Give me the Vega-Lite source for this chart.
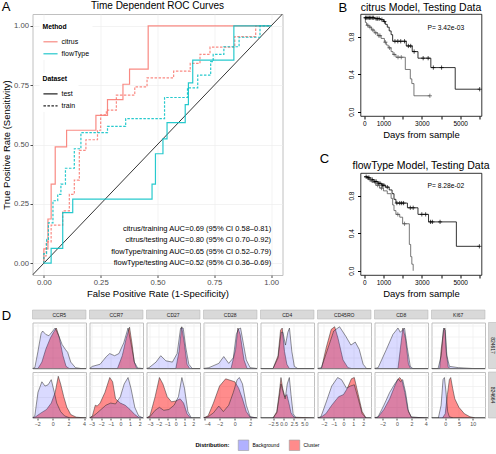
{
"$schema":"https://vega.github.io/schema/vega-lite/v6.json",
"background":"white",
"padding":{"left":0.5,"top":0,"right":0,"bottom":0},
"config":{
 "font":"Liberation Sans",
 "view":{"stroke":"#C0C0C0"},
 "title":{"fontWeight":"normal","color":"black","font":"Liberation Sans"},
 "axis":{"gridColor":"#EBEBEB","gridWidth":0.6,"labelFont":"Liberation Sans","titleFont":"Liberation Sans","titleFontWeight":"normal","titleColor":"black","labelColor":"#4D4D4D","tickColor":"#4D4D4D"},
 "legend":{"labelFont":"Liberation Sans","titleFont":"Liberation Sans"}
},
"datasets":{
 "notes":[
  {"id":"A","label":"A"},{"id":"B","label":"B"},{"id":"C","label":"C"},
  {"id":"tA","label":"Time Dependent ROC Curves"},{"id":"tB","label":"citrus Model, Testing Data"},{"id":"tC","label":"flowType Model, Testing Data"},
  {"id":"auc","label":["citrus/training AUC=0.69 (95% CI 0.58–0.81)","citrus/testing AUC=0.80 (95% CI 0.70–0.92)","flowType/training AUC=0.65 (95% CI 0.52–0.79)","flowType/testing AUC=0.52 (95% CI 0.36–0.69)"]},
  {"id":"pB","label":"P= 3.42e-03"},{"id":"pC","label":"P= 8.28e-02"}
 ],
 "roc":[
  {"method":"citrus","dataset":"test","fpr":0,"tpr":0},{"method":"citrus","dataset":"test","fpr":0.018,"tpr":0.06},{"method":"citrus","dataset":"test","fpr":0.032,"tpr":0.186},{"method":"citrus","dataset":"test","fpr":0.05,"tpr":0.333},{"method":"citrus","dataset":"test","fpr":0.1,"tpr":0.49},{"method":"citrus","dataset":"test","fpr":0.229,"tpr":0.56},{"method":"citrus","dataset":"test","fpr":0.28,"tpr":0.623},{"method":"citrus","dataset":"test","fpr":0.348,"tpr":0.689},{"method":"citrus","dataset":"test","fpr":0.377,"tpr":0.754},{"method":"citrus","dataset":"test","fpr":0.459,"tpr":0.818},{"method":"citrus","dataset":"test","fpr":1,"tpr":1},
  {"method":"citrus","dataset":"train","fpr":0,"tpr":0},{"method":"citrus","dataset":"train","fpr":0.01,"tpr":0.03},{"method":"citrus","dataset":"train","fpr":0.032,"tpr":0.09},{"method":"citrus","dataset":"train","fpr":0.083,"tpr":0.16},{"method":"citrus","dataset":"train","fpr":0.112,"tpr":0.22},{"method":"citrus","dataset":"train","fpr":0.134,"tpr":0.29},{"method":"citrus","dataset":"train","fpr":0.156,"tpr":0.35},{"method":"citrus","dataset":"train","fpr":0.185,"tpr":0.475},{"method":"citrus","dataset":"train","fpr":0.236,"tpr":0.52},{"method":"citrus","dataset":"train","fpr":0.25,"tpr":0.56},{"method":"citrus","dataset":"train","fpr":0.275,"tpr":0.625},{"method":"citrus","dataset":"train","fpr":0.319,"tpr":0.645},{"method":"citrus","dataset":"train","fpr":0.4,"tpr":0.708},{"method":"citrus","dataset":"train","fpr":0.454,"tpr":0.743},{"method":"citrus","dataset":"train","fpr":0.571,"tpr":0.781},{"method":"citrus","dataset":"train","fpr":0.644,"tpr":0.809},{"method":"citrus","dataset":"train","fpr":0.687,"tpr":0.842},{"method":"citrus","dataset":"train","fpr":0.731,"tpr":0.88},{"method":"citrus","dataset":"train","fpr":0.84,"tpr":0.91},{"method":"citrus","dataset":"train","fpr":0.932,"tpr":0.955},{"method":"citrus","dataset":"train","fpr":1,"tpr":1},
  {"method":"flowType","dataset":"test","fpr":0,"tpr":0},{"method":"flowType","dataset":"test","fpr":0.032,"tpr":0},{"method":"flowType","dataset":"test","fpr":0.083,"tpr":0.062},{"method":"flowType","dataset":"test","fpr":0.127,"tpr":0.213},{"method":"flowType","dataset":"test","fpr":0.476,"tpr":0.27},{"method":"flowType","dataset":"test","fpr":0.491,"tpr":0.333},{"method":"flowType","dataset":"test","fpr":0.524,"tpr":0.461},{"method":"flowType","dataset":"test","fpr":0.542,"tpr":0.524},{"method":"flowType","dataset":"test","fpr":0.622,"tpr":0.592},{"method":"flowType","dataset":"test","fpr":0.636,"tpr":0.668},{"method":"flowType","dataset":"test","fpr":0.655,"tpr":0.76},{"method":"flowType","dataset":"test","fpr":0.836,"tpr":0.856},{"method":"flowType","dataset":"test","fpr":1,"tpr":1},
  {"method":"flowType","dataset":"train","fpr":0,"tpr":0},{"method":"flowType","dataset":"train","fpr":0.012,"tpr":0.04},{"method":"flowType","dataset":"train","fpr":0.02,"tpr":0.1},{"method":"flowType","dataset":"train","fpr":0.04,"tpr":0.17},{"method":"flowType","dataset":"train","fpr":0.061,"tpr":0.263},{"method":"flowType","dataset":"train","fpr":0.075,"tpr":0.29},{"method":"flowType","dataset":"train","fpr":0.095,"tpr":0.333},{"method":"flowType","dataset":"train","fpr":0.134,"tpr":0.4},{"method":"flowType","dataset":"train","fpr":0.163,"tpr":0.482},{"method":"flowType","dataset":"train","fpr":0.28,"tpr":0.55},{"method":"flowType","dataset":"train","fpr":0.36,"tpr":0.576},{"method":"flowType","dataset":"train","fpr":0.531,"tpr":0.609},{"method":"flowType","dataset":"train","fpr":0.632,"tpr":0.698},{"method":"flowType","dataset":"train","fpr":0.677,"tpr":0.739},{"method":"flowType","dataset":"train","fpr":0.734,"tpr":0.792},{"method":"flowType","dataset":"train","fpr":0.745,"tpr":0.849},{"method":"flowType","dataset":"train","fpr":0.792,"tpr":0.88},{"method":"flowType","dataset":"train","fpr":0.859,"tpr":0.912},{"method":"flowType","dataset":"train","fpr":0.951,"tpr":0.952},{"method":"flowType","dataset":"train","fpr":1,"tpr":1}
 ],
 "km":[
  {"panel":"B","group":"low","kind":"step","time":0,"surv":1},{"panel":"B","group":"low","kind":"step","time":550,"surv":0.99},{"panel":"B","group":"low","kind":"step","time":850,"surv":0.98},{"panel":"B","group":"low","kind":"step","time":1000,"surv":0.96},{"panel":"B","group":"low","kind":"step","time":1100,"surv":0.93},{"panel":"B","group":"low","kind":"step","time":1200,"surv":0.9},{"panel":"B","group":"low","kind":"step","time":1300,"surv":0.86},{"panel":"B","group":"low","kind":"step","time":1400,"surv":0.82},{"panel":"B","group":"low","kind":"step","time":1480,"surv":0.75},{"panel":"B","group":"low","kind":"step","time":2190,"surv":0.7},{"panel":"B","group":"low","kind":"step","time":2500,"surv":0.64},{"panel":"B","group":"low","kind":"step","time":2800,"surv":0.57},{"panel":"B","group":"low","kind":"step","time":3470,"surv":0.47},{"panel":"B","group":"low","kind":"step","time":4740,"surv":0.24},{"panel":"B","group":"low","kind":"step","time":6016,"surv":0.24},
  {"panel":"B","group":"low","kind":"censor","time":60,"surv":1},{"panel":"B","group":"low","kind":"censor","time":130,"surv":1},{"panel":"B","group":"low","kind":"censor","time":200,"surv":1},{"panel":"B","group":"low","kind":"censor","time":270,"surv":1},{"panel":"B","group":"low","kind":"censor","time":340,"surv":1},{"panel":"B","group":"low","kind":"censor","time":420,"surv":1},{"panel":"B","group":"low","kind":"censor","time":490,"surv":1},{"panel":"B","group":"low","kind":"censor","time":620,"surv":0.99},{"panel":"B","group":"low","kind":"censor","time":700,"surv":0.99},{"panel":"B","group":"low","kind":"censor","time":780,"surv":0.99},{"panel":"B","group":"low","kind":"censor","time":920,"surv":0.98},{"panel":"B","group":"low","kind":"censor","time":1050,"surv":0.96},{"panel":"B","group":"low","kind":"censor","time":1600,"surv":0.75},{"panel":"B","group":"low","kind":"censor","time":1750,"surv":0.75},{"panel":"B","group":"low","kind":"censor","time":1900,"surv":0.75},{"panel":"B","group":"low","kind":"censor","time":2100,"surv":0.75},{"panel":"B","group":"low","kind":"censor","time":2300,"surv":0.7},{"panel":"B","group":"low","kind":"censor","time":2420,"surv":0.7},{"panel":"B","group":"low","kind":"censor","time":2600,"surv":0.64},{"panel":"B","group":"low","kind":"censor","time":3070,"surv":0.57},{"panel":"B","group":"low","kind":"censor","time":3330,"surv":0.57},{"panel":"B","group":"low","kind":"censor","time":3600,"surv":0.47},{"panel":"B","group":"low","kind":"censor","time":4030,"surv":0.47},{"panel":"B","group":"low","kind":"censor","time":6016,"surv":0.24},
  {"panel":"B","group":"high","kind":"step","time":0,"surv":1},{"panel":"B","group":"high","kind":"step","time":60,"surv":0.95},{"panel":"B","group":"high","kind":"step","time":120,"surv":0.92},{"panel":"B","group":"high","kind":"step","time":250,"surv":0.9},{"panel":"B","group":"high","kind":"step","time":380,"surv":0.87},{"panel":"B","group":"high","kind":"step","time":520,"surv":0.84},{"panel":"B","group":"high","kind":"step","time":700,"surv":0.81},{"panel":"B","group":"high","kind":"step","time":880,"surv":0.78},{"panel":"B","group":"high","kind":"step","time":1050,"surv":0.74},{"panel":"B","group":"high","kind":"step","time":1150,"surv":0.71},{"panel":"B","group":"high","kind":"step","time":1250,"surv":0.68},{"panel":"B","group":"high","kind":"step","time":1400,"surv":0.64},{"panel":"B","group":"high","kind":"step","time":1500,"surv":0.61},{"panel":"B","group":"high","kind":"step","time":1650,"surv":0.58},{"panel":"B","group":"high","kind":"step","time":2140,"surv":0.45},{"panel":"B","group":"high","kind":"step","time":2400,"surv":0.35},{"panel":"B","group":"high","kind":"step","time":2480,"surv":0.3},{"panel":"B","group":"high","kind":"step","time":2590,"surv":0.17},{"panel":"B","group":"high","kind":"step","time":3420,"surv":0.17},
  {"panel":"B","group":"high","kind":"censor","time":180,"surv":0.92},{"panel":"B","group":"high","kind":"censor","time":300,"surv":0.9},{"panel":"B","group":"high","kind":"censor","time":450,"surv":0.87},{"panel":"B","group":"high","kind":"censor","time":600,"surv":0.84},{"panel":"B","group":"high","kind":"censor","time":760,"surv":0.81},{"panel":"B","group":"high","kind":"censor","time":820,"surv":0.81},{"panel":"B","group":"high","kind":"censor","time":1100,"surv":0.74},{"panel":"B","group":"high","kind":"censor","time":1320,"surv":0.68},{"panel":"B","group":"high","kind":"censor","time":1560,"surv":0.61},{"panel":"B","group":"high","kind":"censor","time":1760,"surv":0.58},{"panel":"B","group":"high","kind":"censor","time":1930,"surv":0.58},{"panel":"B","group":"high","kind":"censor","time":3420,"surv":0.17},
  {"panel":"C","group":"low","kind":"step","time":0,"surv":1},{"panel":"C","group":"low","kind":"step","time":150,"surv":0.99},{"panel":"C","group":"low","kind":"step","time":300,"surv":0.97},{"panel":"C","group":"low","kind":"step","time":500,"surv":0.95},{"panel":"C","group":"low","kind":"step","time":700,"surv":0.93},{"panel":"C","group":"low","kind":"step","time":900,"surv":0.91},{"panel":"C","group":"low","kind":"step","time":1100,"surv":0.89},{"panel":"C","group":"low","kind":"step","time":1300,"surv":0.86},{"panel":"C","group":"low","kind":"step","time":1450,"surv":0.82},{"panel":"C","group":"low","kind":"step","time":1550,"surv":0.76},{"panel":"C","group":"low","kind":"step","time":1650,"surv":0.72},{"panel":"C","group":"low","kind":"step","time":2250,"surv":0.67},{"panel":"C","group":"low","kind":"step","time":2800,"surv":0.6},{"panel":"C","group":"low","kind":"step","time":3350,"surv":0.52},{"panel":"C","group":"low","kind":"step","time":4800,"surv":0.26},{"panel":"C","group":"low","kind":"step","time":6000,"surv":0.26},
  {"panel":"C","group":"low","kind":"censor","time":100,"surv":1},{"panel":"C","group":"low","kind":"censor","time":200,"surv":0.99},{"panel":"C","group":"low","kind":"censor","time":250,"surv":0.99},{"panel":"C","group":"low","kind":"censor","time":350,"surv":0.97},{"panel":"C","group":"low","kind":"censor","time":420,"surv":0.97},{"panel":"C","group":"low","kind":"censor","time":550,"surv":0.95},{"panel":"C","group":"low","kind":"censor","time":620,"surv":0.95},{"panel":"C","group":"low","kind":"censor","time":750,"surv":0.93},{"panel":"C","group":"low","kind":"censor","time":820,"surv":0.93},{"panel":"C","group":"low","kind":"censor","time":950,"surv":0.91},{"panel":"C","group":"low","kind":"censor","time":1020,"surv":0.91},{"panel":"C","group":"low","kind":"censor","time":1200,"surv":0.89},{"panel":"C","group":"low","kind":"censor","time":1700,"surv":0.72},{"panel":"C","group":"low","kind":"censor","time":1850,"surv":0.72},{"panel":"C","group":"low","kind":"censor","time":1950,"surv":0.72},{"panel":"C","group":"low","kind":"censor","time":2050,"surv":0.72},{"panel":"C","group":"low","kind":"censor","time":2400,"surv":0.67},{"panel":"C","group":"low","kind":"censor","time":2550,"surv":0.67},{"panel":"C","group":"low","kind":"censor","time":3000,"surv":0.6},{"panel":"C","group":"low","kind":"censor","time":3200,"surv":0.6},{"panel":"C","group":"low","kind":"censor","time":3450,"surv":0.52},{"panel":"C","group":"low","kind":"censor","time":3550,"surv":0.52},{"panel":"C","group":"low","kind":"censor","time":3950,"surv":0.52},{"panel":"C","group":"low","kind":"censor","time":6000,"surv":0.26},
  {"panel":"C","group":"high","kind":"step","time":0,"surv":1},{"panel":"C","group":"high","kind":"step","time":200,"surv":0.97},{"panel":"C","group":"high","kind":"step","time":400,"surv":0.94},{"panel":"C","group":"high","kind":"step","time":600,"surv":0.91},{"panel":"C","group":"high","kind":"step","time":800,"surv":0.88},{"panel":"C","group":"high","kind":"step","time":1000,"surv":0.85},{"panel":"C","group":"high","kind":"step","time":1200,"surv":0.82},{"panel":"C","group":"high","kind":"step","time":1400,"surv":0.77},{"panel":"C","group":"high","kind":"step","time":1480,"surv":0.7},{"panel":"C","group":"high","kind":"step","time":1550,"surv":0.64},{"panel":"C","group":"high","kind":"step","time":1650,"surv":0.6},{"panel":"C","group":"high","kind":"step","time":1850,"surv":0.57},{"panel":"C","group":"high","kind":"step","time":2000,"surv":0.5},{"panel":"C","group":"high","kind":"step","time":2350,"surv":0.28},{"panel":"C","group":"high","kind":"step","time":2420,"surv":0.15},{"panel":"C","group":"high","kind":"step","time":2480,"surv":0.07},{"panel":"C","group":"high","kind":"step","time":2550,"surv":0},
  {"panel":"C","group":"high","kind":"censor","time":300,"surv":0.97},{"panel":"C","group":"high","kind":"censor","time":700,"surv":0.91},{"panel":"C","group":"high","kind":"censor","time":900,"surv":0.88},{"panel":"C","group":"high","kind":"censor","time":1750,"surv":0.6},{"panel":"C","group":"high","kind":"censor","time":2100,"surv":0.5}
 ],
 "markers":[{"marker":"CCR5"},{"marker":"CCR7"},{"marker":"CD27"},{"marker":"CD28"},{"marker":"CD4"},{"marker":"CD45RO"},{"marker":"CD8"},{"marker":"KI67"}],
 "samples":[{"sample":"824617"},{"sample":"824664"}],
 "dens":[
  {"marker":"CCR5","sample":"824617","dist":"Background","x":-2.6,"y":0},{"marker":"CCR5","sample":"824617","dist":"Background","x":-2.3,"y":0.02},{"marker":"CCR5","sample":"824617","dist":"Background","x":-1.9,"y":0.4},{"marker":"CCR5","sample":"824617","dist":"Background","x":-1.5,"y":0.82},{"marker":"CCR5","sample":"824617","dist":"Background","x":-1.3,"y":0.88},{"marker":"CCR5","sample":"824617","dist":"Background","x":-0.9,"y":0.8},{"marker":"CCR5","sample":"824617","dist":"Background","x":-0.5,"y":0.77},{"marker":"CCR5","sample":"824617","dist":"Background","x":0,"y":0.88},{"marker":"CCR5","sample":"824617","dist":"Background","x":0.3,"y":0.95},{"marker":"CCR5","sample":"824617","dist":"Background","x":0.8,"y":0.75},{"marker":"CCR5","sample":"824617","dist":"Background","x":1.2,"y":0.56},{"marker":"CCR5","sample":"824617","dist":"Background","x":1.6,"y":0.45},{"marker":"CCR5","sample":"824617","dist":"Background","x":1.9,"y":0.38},{"marker":"CCR5","sample":"824617","dist":"Background","x":2.3,"y":0.15},{"marker":"CCR5","sample":"824617","dist":"Background","x":2.9,"y":0.02},{"marker":"CCR5","sample":"824617","dist":"Background","x":3.6,"y":0},{"marker":"CCR5","sample":"824617","dist":"Background","x":4.25,"y":0},
  {"marker":"CCR5","sample":"824617","dist":"Cluster","x":-2.6,"y":0},{"marker":"CCR5","sample":"824617","dist":"Cluster","x":-1.9,"y":0},{"marker":"CCR5","sample":"824617","dist":"Cluster","x":-1.4,"y":0.15},{"marker":"CCR5","sample":"824617","dist":"Cluster","x":-0.9,"y":0.45},{"marker":"CCR5","sample":"824617","dist":"Cluster","x":-0.3,"y":0.72},{"marker":"CCR5","sample":"824617","dist":"Cluster","x":0.1,"y":0.85},{"marker":"CCR5","sample":"824617","dist":"Cluster","x":0.45,"y":0.95},{"marker":"CCR5","sample":"824617","dist":"Cluster","x":0.8,"y":0.75},{"marker":"CCR5","sample":"824617","dist":"Cluster","x":1.3,"y":0.3},{"marker":"CCR5","sample":"824617","dist":"Cluster","x":1.7,"y":0.05},{"marker":"CCR5","sample":"824617","dist":"Cluster","x":2.1,"y":0},{"marker":"CCR5","sample":"824617","dist":"Cluster","x":4.25,"y":0},
  {"marker":"CCR5","sample":"824664","dist":"Background","x":-2.6,"y":0},{"marker":"CCR5","sample":"824664","dist":"Background","x":-2.3,"y":0.05},{"marker":"CCR5","sample":"824664","dist":"Background","x":-1.9,"y":0.6},{"marker":"CCR5","sample":"824664","dist":"Background","x":-1.4,"y":0.85},{"marker":"CCR5","sample":"824664","dist":"Background","x":-1,"y":0.75},{"marker":"CCR5","sample":"824664","dist":"Background","x":-0.6,"y":0.78},{"marker":"CCR5","sample":"824664","dist":"Background","x":-0.2,"y":0.9},{"marker":"CCR5","sample":"824664","dist":"Background","x":0.2,"y":0.6},{"marker":"CCR5","sample":"824664","dist":"Background","x":0.5,"y":0.35},{"marker":"CCR5","sample":"824664","dist":"Background","x":1,"y":0.15},{"marker":"CCR5","sample":"824664","dist":"Background","x":1.5,"y":0.05},{"marker":"CCR5","sample":"824664","dist":"Background","x":2.2,"y":0},{"marker":"CCR5","sample":"824664","dist":"Background","x":4.25,"y":0},
  {"marker":"CCR5","sample":"824664","dist":"Cluster","x":-2.6,"y":0},{"marker":"CCR5","sample":"824664","dist":"Cluster","x":-2.2,"y":0.03},{"marker":"CCR5","sample":"824664","dist":"Cluster","x":-1.5,"y":0.12},{"marker":"CCR5","sample":"824664","dist":"Cluster","x":-0.8,"y":0.2},{"marker":"CCR5","sample":"824664","dist":"Cluster","x":-0.2,"y":0.35},{"marker":"CCR5","sample":"824664","dist":"Cluster","x":0.3,"y":0.6},{"marker":"CCR5","sample":"824664","dist":"Cluster","x":0.7,"y":0.98},{"marker":"CCR5","sample":"824664","dist":"Cluster","x":1,"y":0.8},{"marker":"CCR5","sample":"824664","dist":"Cluster","x":1.4,"y":0.5},{"marker":"CCR5","sample":"824664","dist":"Cluster","x":1.8,"y":0.25},{"marker":"CCR5","sample":"824664","dist":"Cluster","x":2.3,"y":0.08},{"marker":"CCR5","sample":"824664","dist":"Cluster","x":3,"y":0.02},{"marker":"CCR5","sample":"824664","dist":"Cluster","x":4.25,"y":0},
  {"marker":"CCR7","sample":"824617","dist":"Background","x":-3.2,"y":0},{"marker":"CCR7","sample":"824617","dist":"Background","x":-2.9,"y":0.05},{"marker":"CCR7","sample":"824617","dist":"Background","x":-2.1,"y":0.1},{"marker":"CCR7","sample":"824617","dist":"Background","x":-1.45,"y":0.28},{"marker":"CCR7","sample":"824617","dist":"Background","x":-1.1,"y":0.35},{"marker":"CCR7","sample":"824617","dist":"Background","x":-0.6,"y":0.3},{"marker":"CCR7","sample":"824617","dist":"Background","x":-0.15,"y":0.35},{"marker":"CCR7","sample":"824617","dist":"Background","x":0.35,"y":0.6},{"marker":"CCR7","sample":"824617","dist":"Background","x":0.8,"y":0.95},{"marker":"CCR7","sample":"824617","dist":"Background","x":1.1,"y":0.6},{"marker":"CCR7","sample":"824617","dist":"Background","x":1.45,"y":0.15},{"marker":"CCR7","sample":"824617","dist":"Background","x":1.8,"y":0.01},{"marker":"CCR7","sample":"824617","dist":"Background","x":2.35,"y":0},
  {"marker":"CCR7","sample":"824617","dist":"Cluster","x":-3.2,"y":0},{"marker":"CCR7","sample":"824617","dist":"Cluster","x":-0.3,"y":0},{"marker":"CCR7","sample":"824617","dist":"Cluster","x":0.2,"y":0.3},{"marker":"CCR7","sample":"824617","dist":"Cluster","x":0.6,"y":0.7},{"marker":"CCR7","sample":"824617","dist":"Cluster","x":0.95,"y":0.97},{"marker":"CCR7","sample":"824617","dist":"Cluster","x":1.2,"y":0.6},{"marker":"CCR7","sample":"824617","dist":"Cluster","x":1.45,"y":0.15},{"marker":"CCR7","sample":"824617","dist":"Cluster","x":1.7,"y":0},{"marker":"CCR7","sample":"824617","dist":"Cluster","x":2.35,"y":0},
  {"marker":"CCR7","sample":"824664","dist":"Background","x":-3.2,"y":0},{"marker":"CCR7","sample":"824664","dist":"Background","x":-2.9,"y":0.03},{"marker":"CCR7","sample":"824664","dist":"Background","x":-2.5,"y":0.1},{"marker":"CCR7","sample":"824664","dist":"Background","x":-2,"y":0.2},{"marker":"CCR7","sample":"824664","dist":"Background","x":-1.5,"y":0.3},{"marker":"CCR7","sample":"824664","dist":"Background","x":-1,"y":0.35},{"marker":"CCR7","sample":"824664","dist":"Background","x":-0.5,"y":0.33},{"marker":"CCR7","sample":"824664","dist":"Background","x":0,"y":0.5},{"marker":"CCR7","sample":"824664","dist":"Background","x":0.4,"y":0.8},{"marker":"CCR7","sample":"824664","dist":"Background","x":0.8,"y":0.95},{"marker":"CCR7","sample":"824664","dist":"Background","x":1.1,"y":0.7},{"marker":"CCR7","sample":"824664","dist":"Background","x":1.5,"y":0.25},{"marker":"CCR7","sample":"824664","dist":"Background","x":1.9,"y":0.05},{"marker":"CCR7","sample":"824664","dist":"Background","x":2.35,"y":0},
  {"marker":"CCR7","sample":"824664","dist":"Cluster","x":-3.2,"y":0},{"marker":"CCR7","sample":"824664","dist":"Cluster","x":-2.9,"y":0.05},{"marker":"CCR7","sample":"824664","dist":"Cluster","x":-2.6,"y":0.3},{"marker":"CCR7","sample":"824664","dist":"Cluster","x":-2.4,"y":0.28},{"marker":"CCR7","sample":"824664","dist":"Cluster","x":-2.1,"y":0.35},{"marker":"CCR7","sample":"824664","dist":"Cluster","x":-1.6,"y":0.6},{"marker":"CCR7","sample":"824664","dist":"Cluster","x":-1.1,"y":0.95},{"marker":"CCR7","sample":"824664","dist":"Cluster","x":-0.8,"y":0.85},{"marker":"CCR7","sample":"824664","dist":"Cluster","x":-0.5,"y":0.45},{"marker":"CCR7","sample":"824664","dist":"Cluster","x":0,"y":0.35},{"marker":"CCR7","sample":"824664","dist":"Cluster","x":0.5,"y":0.3},{"marker":"CCR7","sample":"824664","dist":"Cluster","x":1,"y":0.2},{"marker":"CCR7","sample":"824664","dist":"Cluster","x":1.5,"y":0.08},{"marker":"CCR7","sample":"824664","dist":"Cluster","x":2,"y":0},{"marker":"CCR7","sample":"824664","dist":"Cluster","x":2.35,"y":0},
  {"marker":"CD27","sample":"824617","dist":"Background","x":-3.4,"y":0},{"marker":"CD27","sample":"824617","dist":"Background","x":-3.1,"y":0.02},{"marker":"CD27","sample":"824617","dist":"Background","x":-2.3,"y":0.15},{"marker":"CD27","sample":"824617","dist":"Background","x":-1.75,"y":0.3},{"marker":"CD27","sample":"824617","dist":"Background","x":-1.15,"y":0.18},{"marker":"CD27","sample":"824617","dist":"Background","x":-0.4,"y":0.15},{"marker":"CD27","sample":"824617","dist":"Background","x":0.15,"y":0.35},{"marker":"CD27","sample":"824617","dist":"Background","x":0.55,"y":0.95},{"marker":"CD27","sample":"824617","dist":"Background","x":0.85,"y":0.95},{"marker":"CD27","sample":"824617","dist":"Background","x":1.15,"y":0.5},{"marker":"CD27","sample":"824617","dist":"Background","x":1.5,"y":0.1},{"marker":"CD27","sample":"824617","dist":"Background","x":1.9,"y":0},{"marker":"CD27","sample":"824617","dist":"Background","x":2.8,"y":0},
  {"marker":"CD27","sample":"824617","dist":"Cluster","x":-3.4,"y":0},{"marker":"CD27","sample":"824617","dist":"Cluster","x":0,"y":0},{"marker":"CD27","sample":"824617","dist":"Cluster","x":0.37,"y":0.4},{"marker":"CD27","sample":"824617","dist":"Cluster","x":0.68,"y":0.98},{"marker":"CD27","sample":"824617","dist":"Cluster","x":0.98,"y":0.6},{"marker":"CD27","sample":"824617","dist":"Cluster","x":1.3,"y":0.1},{"marker":"CD27","sample":"824617","dist":"Cluster","x":1.6,"y":0},{"marker":"CD27","sample":"824617","dist":"Cluster","x":2.8,"y":0},
  {"marker":"CD27","sample":"824664","dist":"Background","x":-3.4,"y":0},{"marker":"CD27","sample":"824664","dist":"Background","x":-3,"y":0.03},{"marker":"CD27","sample":"824664","dist":"Background","x":-2.4,"y":0.18},{"marker":"CD27","sample":"824664","dist":"Background","x":-1.9,"y":0.25},{"marker":"CD27","sample":"824664","dist":"Background","x":-1.4,"y":0.18},{"marker":"CD27","sample":"824664","dist":"Background","x":-0.8,"y":0.2},{"marker":"CD27","sample":"824664","dist":"Background","x":-0.2,"y":0.3},{"marker":"CD27","sample":"824664","dist":"Background","x":0.3,"y":0.5},{"marker":"CD27","sample":"824664","dist":"Background","x":0.7,"y":0.95},{"marker":"CD27","sample":"824664","dist":"Background","x":1,"y":0.7},{"marker":"CD27","sample":"824664","dist":"Background","x":1.4,"y":0.15},{"marker":"CD27","sample":"824664","dist":"Background","x":1.8,"y":0},{"marker":"CD27","sample":"824664","dist":"Background","x":2.8,"y":0},
  {"marker":"CD27","sample":"824664","dist":"Cluster","x":-3.4,"y":0},{"marker":"CD27","sample":"824664","dist":"Cluster","x":-3,"y":0.05},{"marker":"CD27","sample":"824664","dist":"Cluster","x":-2.4,"y":0.5},{"marker":"CD27","sample":"824664","dist":"Cluster","x":-1.9,"y":0.95},{"marker":"CD27","sample":"824664","dist":"Cluster","x":-1.5,"y":0.8},{"marker":"CD27","sample":"824664","dist":"Cluster","x":-1,"y":0.5},{"marker":"CD27","sample":"824664","dist":"Cluster","x":-0.5,"y":0.38},{"marker":"CD27","sample":"824664","dist":"Cluster","x":0,"y":0.4},{"marker":"CD27","sample":"824664","dist":"Cluster","x":0.5,"y":0.45},{"marker":"CD27","sample":"824664","dist":"Cluster","x":0.9,"y":0.35},{"marker":"CD27","sample":"824664","dist":"Cluster","x":1.3,"y":0.1},{"marker":"CD27","sample":"824664","dist":"Cluster","x":1.7,"y":0},{"marker":"CD27","sample":"824664","dist":"Cluster","x":2.8,"y":0},
  {"marker":"CD28","sample":"824617","dist":"Background","x":-4.1,"y":0},{"marker":"CD28","sample":"824617","dist":"Background","x":-3.4,"y":0.02},{"marker":"CD28","sample":"824617","dist":"Background","x":-2.1,"y":0.12},{"marker":"CD28","sample":"824617","dist":"Background","x":-1.45,"y":0.28},{"marker":"CD28","sample":"824617","dist":"Background","x":-0.8,"y":0.12},{"marker":"CD28","sample":"824617","dist":"Background","x":-0.2,"y":0.25},{"marker":"CD28","sample":"824617","dist":"Background","x":0.2,"y":0.8},{"marker":"CD28","sample":"824617","dist":"Background","x":0.45,"y":0.92},{"marker":"CD28","sample":"824617","dist":"Background","x":0.75,"y":0.95},{"marker":"CD28","sample":"824617","dist":"Background","x":1.1,"y":0.6},{"marker":"CD28","sample":"824617","dist":"Background","x":1.5,"y":0.2},{"marker":"CD28","sample":"824617","dist":"Background","x":2,"y":0.02},{"marker":"CD28","sample":"824617","dist":"Background","x":2.9,"y":0},
  {"marker":"CD28","sample":"824617","dist":"Cluster","x":-4.1,"y":0},{"marker":"CD28","sample":"824617","dist":"Cluster","x":-0.5,"y":0},{"marker":"CD28","sample":"824617","dist":"Cluster","x":0.1,"y":0.45},{"marker":"CD28","sample":"824617","dist":"Cluster","x":0.4,"y":0.95},{"marker":"CD28","sample":"824617","dist":"Cluster","x":0.7,"y":0.8},{"marker":"CD28","sample":"824617","dist":"Cluster","x":1.2,"y":0.2},{"marker":"CD28","sample":"824617","dist":"Cluster","x":1.6,"y":0},{"marker":"CD28","sample":"824617","dist":"Cluster","x":2.9,"y":0},
  {"marker":"CD28","sample":"824664","dist":"Background","x":-4.1,"y":0},{"marker":"CD28","sample":"824664","dist":"Background","x":-3.5,"y":0.03},{"marker":"CD28","sample":"824664","dist":"Background","x":-2.8,"y":0.12},{"marker":"CD28","sample":"824664","dist":"Background","x":-2.1,"y":0.28},{"marker":"CD28","sample":"824664","dist":"Background","x":-1.5,"y":0.15},{"marker":"CD28","sample":"824664","dist":"Background","x":-0.8,"y":0.3},{"marker":"CD28","sample":"824664","dist":"Background","x":-0.2,"y":0.6},{"marker":"CD28","sample":"824664","dist":"Background","x":0.3,"y":0.9},{"marker":"CD28","sample":"824664","dist":"Background","x":0.6,"y":0.95},{"marker":"CD28","sample":"824664","dist":"Background","x":1,"y":0.8},{"marker":"CD28","sample":"824664","dist":"Background","x":1.5,"y":0.3},{"marker":"CD28","sample":"824664","dist":"Background","x":2,"y":0.03},{"marker":"CD28","sample":"824664","dist":"Background","x":2.9,"y":0},
  {"marker":"CD28","sample":"824664","dist":"Cluster","x":-4.1,"y":0},{"marker":"CD28","sample":"824664","dist":"Cluster","x":-3.5,"y":0.05},{"marker":"CD28","sample":"824664","dist":"Cluster","x":-2.8,"y":0.35},{"marker":"CD28","sample":"824664","dist":"Cluster","x":-2,"y":0.75},{"marker":"CD28","sample":"824664","dist":"Cluster","x":-1.2,"y":0.92},{"marker":"CD28","sample":"824664","dist":"Cluster","x":-0.5,"y":0.88},{"marker":"CD28","sample":"824664","dist":"Cluster","x":0,"y":0.85},{"marker":"CD28","sample":"824664","dist":"Cluster","x":0.5,"y":0.7},{"marker":"CD28","sample":"824664","dist":"Cluster","x":1,"y":0.45},{"marker":"CD28","sample":"824664","dist":"Cluster","x":1.5,"y":0.15},{"marker":"CD28","sample":"824664","dist":"Cluster","x":2,"y":0.02},{"marker":"CD28","sample":"824664","dist":"Cluster","x":2.9,"y":0},
  {"marker":"CD4","sample":"824617","dist":"Background","x":-5.5,"y":0},{"marker":"CD4","sample":"824617","dist":"Background","x":-2.5,"y":0},{"marker":"CD4","sample":"824617","dist":"Background","x":-1.3,"y":0.25},{"marker":"CD4","sample":"824617","dist":"Background","x":-0.55,"y":0.85},{"marker":"CD4","sample":"824617","dist":"Background","x":-0.15,"y":0.85},{"marker":"CD4","sample":"824617","dist":"Background","x":0.48,"y":0.55},{"marker":"CD4","sample":"824617","dist":"Background","x":1.04,"y":0.85},{"marker":"CD4","sample":"824617","dist":"Background","x":1.43,"y":0.95},{"marker":"CD4","sample":"824617","dist":"Background","x":2,"y":0.4},{"marker":"CD4","sample":"824617","dist":"Background","x":2.6,"y":0.05},{"marker":"CD4","sample":"824617","dist":"Background","x":3.4,"y":0},{"marker":"CD4","sample":"824617","dist":"Background","x":7.3,"y":0},
  {"marker":"CD4","sample":"824617","dist":"Cluster","x":-5.5,"y":0},{"marker":"CD4","sample":"824617","dist":"Cluster","x":-2.5,"y":0},{"marker":"CD4","sample":"824617","dist":"Cluster","x":-1.3,"y":0.3},{"marker":"CD4","sample":"824617","dist":"Cluster","x":-0.7,"y":0.9},{"marker":"CD4","sample":"824617","dist":"Cluster","x":-0.3,"y":0.95},{"marker":"CD4","sample":"824617","dist":"Cluster","x":0.24,"y":0.4},{"marker":"CD4","sample":"824617","dist":"Cluster","x":0.8,"y":0.1},{"marker":"CD4","sample":"824617","dist":"Cluster","x":1.4,"y":0},{"marker":"CD4","sample":"824617","dist":"Cluster","x":7.3,"y":0},
  {"marker":"CD4","sample":"824664","dist":"Background","x":-5.5,"y":0},{"marker":"CD4","sample":"824664","dist":"Background","x":-2.5,"y":0},{"marker":"CD4","sample":"824664","dist":"Background","x":-1.6,"y":0.12},{"marker":"CD4","sample":"824664","dist":"Background","x":-1,"y":0.5},{"marker":"CD4","sample":"824664","dist":"Background","x":-0.6,"y":0.8},{"marker":"CD4","sample":"824664","dist":"Background","x":-0.2,"y":0.65},{"marker":"CD4","sample":"824664","dist":"Background","x":0.4,"y":0.45},{"marker":"CD4","sample":"824664","dist":"Background","x":0.9,"y":0.8},{"marker":"CD4","sample":"824664","dist":"Background","x":1.4,"y":0.95},{"marker":"CD4","sample":"824664","dist":"Background","x":1.8,"y":0.55},{"marker":"CD4","sample":"824664","dist":"Background","x":2.3,"y":0.1},{"marker":"CD4","sample":"824664","dist":"Background","x":3,"y":0},{"marker":"CD4","sample":"824664","dist":"Background","x":7.3,"y":0},
  {"marker":"CD4","sample":"824664","dist":"Cluster","x":-5.5,"y":0},{"marker":"CD4","sample":"824664","dist":"Cluster","x":-2.5,"y":0},{"marker":"CD4","sample":"824664","dist":"Cluster","x":-1.6,"y":0.15},{"marker":"CD4","sample":"824664","dist":"Cluster","x":-1,"y":0.6},{"marker":"CD4","sample":"824664","dist":"Cluster","x":-0.6,"y":0.95},{"marker":"CD4","sample":"824664","dist":"Cluster","x":-0.2,"y":0.7},{"marker":"CD4","sample":"824664","dist":"Cluster","x":0.3,"y":0.5},{"marker":"CD4","sample":"824664","dist":"Cluster","x":0.8,"y":0.55},{"marker":"CD4","sample":"824664","dist":"Cluster","x":1.3,"y":0.35},{"marker":"CD4","sample":"824664","dist":"Cluster","x":1.8,"y":0.12},{"marker":"CD4","sample":"824664","dist":"Cluster","x":2.5,"y":0.02},{"marker":"CD4","sample":"824664","dist":"Cluster","x":7.3,"y":0},
  {"marker":"CD45RO","sample":"824617","dist":"Background","x":-2.65,"y":0},{"marker":"CD45RO","sample":"824617","dist":"Background","x":-2.25,"y":0.02},{"marker":"CD45RO","sample":"824617","dist":"Background","x":-1.55,"y":0.5},{"marker":"CD45RO","sample":"824617","dist":"Background","x":-1,"y":0.88},{"marker":"CD45RO","sample":"824617","dist":"Background","x":-0.4,"y":0.98},{"marker":"CD45RO","sample":"824617","dist":"Background","x":0.25,"y":0.75},{"marker":"CD45RO","sample":"824617","dist":"Background","x":0.75,"y":0.55},{"marker":"CD45RO","sample":"824617","dist":"Background","x":1.2,"y":0.62},{"marker":"CD45RO","sample":"824617","dist":"Background","x":1.6,"y":0.45},{"marker":"CD45RO","sample":"824617","dist":"Background","x":2,"y":0.1},{"marker":"CD45RO","sample":"824617","dist":"Background","x":2.35,"y":0},{"marker":"CD45RO","sample":"824617","dist":"Background","x":2.8,"y":0},
  {"marker":"CD45RO","sample":"824617","dist":"Cluster","x":-2.65,"y":0},{"marker":"CD45RO","sample":"824617","dist":"Cluster","x":-2.25,"y":0},{"marker":"CD45RO","sample":"824617","dist":"Cluster","x":-1.75,"y":0.5},{"marker":"CD45RO","sample":"824617","dist":"Cluster","x":-1.25,"y":0.92},{"marker":"CD45RO","sample":"824617","dist":"Cluster","x":-0.9,"y":0.98},{"marker":"CD45RO","sample":"824617","dist":"Cluster","x":-0.55,"y":0.7},{"marker":"CD45RO","sample":"824617","dist":"Cluster","x":-0.05,"y":0.2},{"marker":"CD45RO","sample":"824617","dist":"Cluster","x":0.45,"y":0.02},{"marker":"CD45RO","sample":"824617","dist":"Cluster","x":0.8,"y":0},{"marker":"CD45RO","sample":"824617","dist":"Cluster","x":2.8,"y":0},
  {"marker":"CD45RO","sample":"824664","dist":"Background","x":-2.65,"y":0},{"marker":"CD45RO","sample":"824664","dist":"Background","x":-2.3,"y":0.03},{"marker":"CD45RO","sample":"824664","dist":"Background","x":-1.8,"y":0.35},{"marker":"CD45RO","sample":"824664","dist":"Background","x":-1.2,"y":0.75},{"marker":"CD45RO","sample":"824664","dist":"Background","x":-0.6,"y":0.95},{"marker":"CD45RO","sample":"824664","dist":"Background","x":-0.2,"y":0.9},{"marker":"CD45RO","sample":"824664","dist":"Background","x":0.3,"y":0.7},{"marker":"CD45RO","sample":"824664","dist":"Background","x":0.7,"y":0.75},{"marker":"CD45RO","sample":"824664","dist":"Background","x":1.1,"y":0.78},{"marker":"CD45RO","sample":"824664","dist":"Background","x":1.5,"y":0.45},{"marker":"CD45RO","sample":"824664","dist":"Background","x":1.9,"y":0.1},{"marker":"CD45RO","sample":"824664","dist":"Background","x":2.3,"y":0},{"marker":"CD45RO","sample":"824664","dist":"Background","x":2.8,"y":0},
  {"marker":"CD45RO","sample":"824664","dist":"Cluster","x":-2.65,"y":0},{"marker":"CD45RO","sample":"824664","dist":"Cluster","x":-2.3,"y":0.02},{"marker":"CD45RO","sample":"824664","dist":"Cluster","x":-1.8,"y":0.1},{"marker":"CD45RO","sample":"824664","dist":"Cluster","x":-1.2,"y":0.3},{"marker":"CD45RO","sample":"824664","dist":"Cluster","x":-0.5,"y":0.5},{"marker":"CD45RO","sample":"824664","dist":"Cluster","x":0,"y":0.55},{"marker":"CD45RO","sample":"824664","dist":"Cluster","x":0.4,"y":0.7},{"marker":"CD45RO","sample":"824664","dist":"Cluster","x":0.8,"y":0.92},{"marker":"CD45RO","sample":"824664","dist":"Cluster","x":1.1,"y":0.95},{"marker":"CD45RO","sample":"824664","dist":"Cluster","x":1.5,"y":0.55},{"marker":"CD45RO","sample":"824664","dist":"Cluster","x":1.9,"y":0.15},{"marker":"CD45RO","sample":"824664","dist":"Cluster","x":2.3,"y":0},{"marker":"CD45RO","sample":"824664","dist":"Cluster","x":2.8,"y":0},
  {"marker":"CD8","sample":"824617","dist":"Background","x":-3.1,"y":0},{"marker":"CD8","sample":"824617","dist":"Background","x":-2.6,"y":0.02},{"marker":"CD8","sample":"824617","dist":"Background","x":-1.45,"y":0.45},{"marker":"CD8","sample":"824617","dist":"Background","x":-0.55,"y":0.8},{"marker":"CD8","sample":"824617","dist":"Background","x":0.15,"y":0.95},{"marker":"CD8","sample":"824617","dist":"Background","x":0.47,"y":0.85},{"marker":"CD8","sample":"824617","dist":"Background","x":1.05,"y":0.95},{"marker":"CD8","sample":"824617","dist":"Background","x":1.42,"y":0.5},{"marker":"CD8","sample":"824617","dist":"Background","x":1.85,"y":0.05},{"marker":"CD8","sample":"824617","dist":"Background","x":2.2,"y":0},{"marker":"CD8","sample":"824617","dist":"Background","x":4.3,"y":0},
  {"marker":"CD8","sample":"824617","dist":"Cluster","x":-3.1,"y":0},{"marker":"CD8","sample":"824617","dist":"Cluster","x":0.15,"y":0},{"marker":"CD8","sample":"824617","dist":"Cluster","x":0.5,"y":0.5},{"marker":"CD8","sample":"824617","dist":"Cluster","x":0.83,"y":0.95},{"marker":"CD8","sample":"824617","dist":"Cluster","x":1.19,"y":0.7},{"marker":"CD8","sample":"824617","dist":"Cluster","x":1.6,"y":0.1},{"marker":"CD8","sample":"824617","dist":"Cluster","x":1.9,"y":0},{"marker":"CD8","sample":"824617","dist":"Cluster","x":4.3,"y":0},
  {"marker":"CD8","sample":"824664","dist":"Background","x":-3.1,"y":0},{"marker":"CD8","sample":"824664","dist":"Background","x":-2.6,"y":0.03},{"marker":"CD8","sample":"824664","dist":"Background","x":-1.8,"y":0.3},{"marker":"CD8","sample":"824664","dist":"Background","x":-1,"y":0.6},{"marker":"CD8","sample":"824664","dist":"Background","x":-0.3,"y":0.8},{"marker":"CD8","sample":"824664","dist":"Background","x":0.2,"y":0.92},{"marker":"CD8","sample":"824664","dist":"Background","x":0.5,"y":0.85},{"marker":"CD8","sample":"824664","dist":"Background","x":0.8,"y":0.9},{"marker":"CD8","sample":"824664","dist":"Background","x":1.2,"y":0.6},{"marker":"CD8","sample":"824664","dist":"Background","x":1.6,"y":0.15},{"marker":"CD8","sample":"824664","dist":"Background","x":2,"y":0.02},{"marker":"CD8","sample":"824664","dist":"Background","x":4.3,"y":0},
  {"marker":"CD8","sample":"824664","dist":"Cluster","x":-3.1,"y":0},{"marker":"CD8","sample":"824664","dist":"Cluster","x":-2.6,"y":0.02},{"marker":"CD8","sample":"824664","dist":"Cluster","x":-1.8,"y":0.2},{"marker":"CD8","sample":"824664","dist":"Cluster","x":-1,"y":0.45},{"marker":"CD8","sample":"824664","dist":"Cluster","x":-0.3,"y":0.75},{"marker":"CD8","sample":"824664","dist":"Cluster","x":0.1,"y":0.9},{"marker":"CD8","sample":"824664","dist":"Cluster","x":0.4,"y":0.95},{"marker":"CD8","sample":"824664","dist":"Cluster","x":0.7,"y":0.88},{"marker":"CD8","sample":"824664","dist":"Cluster","x":1.1,"y":0.6},{"marker":"CD8","sample":"824664","dist":"Cluster","x":1.5,"y":0.2},{"marker":"CD8","sample":"824664","dist":"Cluster","x":2,"y":0.02},{"marker":"CD8","sample":"824664","dist":"Cluster","x":4.3,"y":0},
  {"marker":"KI67","sample":"824617","dist":"Background","x":-5,"y":0},{"marker":"KI67","sample":"824617","dist":"Background","x":-2.6,"y":0},{"marker":"KI67","sample":"824617","dist":"Background","x":-1.45,"y":0.3},{"marker":"KI67","sample":"824617","dist":"Background","x":-0.6,"y":0.95},{"marker":"KI67","sample":"824617","dist":"Background","x":0,"y":0.9},{"marker":"KI67","sample":"824617","dist":"Background","x":0.6,"y":0.3},{"marker":"KI67","sample":"824617","dist":"Background","x":1.55,"y":0.05},{"marker":"KI67","sample":"824617","dist":"Background","x":4.8,"y":0.02},{"marker":"KI67","sample":"824617","dist":"Background","x":10,"y":0},{"marker":"KI67","sample":"824617","dist":"Background","x":14.5,"y":0},
  {"marker":"KI67","sample":"824617","dist":"Cluster","x":-5,"y":0},{"marker":"KI67","sample":"824617","dist":"Cluster","x":-2,"y":0},{"marker":"KI67","sample":"824617","dist":"Cluster","x":-1.55,"y":0.4},{"marker":"KI67","sample":"824617","dist":"Cluster","x":-0.6,"y":0.9},{"marker":"KI67","sample":"824617","dist":"Cluster","x":-0.1,"y":0.95},{"marker":"KI67","sample":"824617","dist":"Cluster","x":0.35,"y":0.4},{"marker":"KI67","sample":"824617","dist":"Cluster","x":1.1,"y":0.03},{"marker":"KI67","sample":"824617","dist":"Cluster","x":2,"y":0},{"marker":"KI67","sample":"824617","dist":"Cluster","x":14.5,"y":0},
  {"marker":"KI67","sample":"824664","dist":"Background","x":-5,"y":0},{"marker":"KI67","sample":"824664","dist":"Background","x":-2.5,"y":0},{"marker":"KI67","sample":"824664","dist":"Background","x":-1.5,"y":0.3},{"marker":"KI67","sample":"824664","dist":"Background","x":-0.8,"y":0.9},{"marker":"KI67","sample":"824664","dist":"Background","x":-0.3,"y":0.95},{"marker":"KI67","sample":"824664","dist":"Background","x":0.3,"y":0.6},{"marker":"KI67","sample":"824664","dist":"Background","x":0.9,"y":0.15},{"marker":"KI67","sample":"824664","dist":"Background","x":1.5,"y":0.03},{"marker":"KI67","sample":"824664","dist":"Background","x":3,"y":0},{"marker":"KI67","sample":"824664","dist":"Background","x":14.5,"y":0},
  {"marker":"KI67","sample":"824664","dist":"Cluster","x":-5,"y":0},{"marker":"KI67","sample":"824664","dist":"Cluster","x":-1,"y":0},{"marker":"KI67","sample":"824664","dist":"Cluster","x":0,"y":0.1},{"marker":"KI67","sample":"824664","dist":"Cluster","x":0.8,"y":0.55},{"marker":"KI67","sample":"824664","dist":"Cluster","x":1.5,"y":0.9},{"marker":"KI67","sample":"824664","dist":"Cluster","x":2,"y":0.95},{"marker":"KI67","sample":"824664","dist":"Cluster","x":2.7,"y":0.7},{"marker":"KI67","sample":"824664","dist":"Cluster","x":3.5,"y":0.45},{"marker":"KI67","sample":"824664","dist":"Cluster","x":5,"y":0.25},{"marker":"KI67","sample":"824664","dist":"Cluster","x":7,"y":0.1},{"marker":"KI67","sample":"824664","dist":"Cluster","x":9,"y":0.03},{"marker":"KI67","sample":"824664","dist":"Cluster","x":11,"y":0},{"marker":"KI67","sample":"824664","dist":"Cluster","x":14.5,"y":0}
 ]
},
"vconcat":[
 {"hconcat":[
  {"width":250,"height":261,
   "view":{"stroke":"#C0C0C0"},
   "layer":[
    {"data":{"values":[{"fpr":-0.05,"tpr":-0.05},{"fpr":1.05,"tpr":1.05}]},"mark":{"type":"line","color":"black","strokeWidth":0.8,"clip":true},
     "encoding":{
      "x":{"field":"fpr","type":"quantitative","scale":{"domain":[-0.05,1.05],"nice":false,"zero":false},
        "axis":{"values":[0,0.125,0.25,0.375,0.5,0.625,0.75,0.875,1],"labelExpr":"(datum.value*4)%1==0 ? format(datum.value,'.2f') : ''","labelOverlap":false,"labelFontSize":7.7,"tickSize":2.5,"labelPadding":1,"tickOpacity":{"condition":{"test":"(datum.value*4)%1!=0","value":0},"value":1},"gridColor":{"condition":{"test":"(datum.value*4)%1!=0","value":"#F4F4F4"},"value":"#EBEBEB"},"domain":false,"title":"False Positive Rate (1-Specificity)","titleFontSize":9.5,"titlePadding":2}},
      "y":{"field":"tpr","type":"quantitative","scale":{"domain":[-0.05,1.05],"nice":false,"zero":false},
        "axis":{"values":[0,0.125,0.25,0.375,0.5,0.625,0.75,0.875,1],"labelExpr":"(datum.value*4)%1==0 ? format(datum.value,'.2f') : ''","labelOverlap":false,"labelFontSize":7.7,"tickSize":2.5,"labelPadding":1.5,"tickOpacity":{"condition":{"test":"(datum.value*4)%1!=0","value":0},"value":1},"gridColor":{"condition":{"test":"(datum.value*4)%1!=0","value":"#F4F4F4"},"value":"#EBEBEB"},"domain":false,"title":"True Positive Rate (Sensitivity)","titleFontSize":9.5,"titlePadding":2}}
     }},
    {"data":{"name":"roc"},"mark":{"type":"line","interpolate":"step-before","strokeWidth":1.2,"opacity":0.85,"clip":true},
     "encoding":{
      "x":{"field":"fpr","type":"quantitative","title":"False Positive Rate (1-Specificity)"},
      "y":{"field":"tpr","type":"quantitative","title":"True Positive Rate (Sensitivity)"},
      "stroke":{"field":"method","type":"nominal","scale":{"domain":["citrus","flowType"],"range":["#F8766D","#00BFC4"]},
        "legend":{"title":"Method","orient":"top-left","offset":7,"padding":3,"fillColor":"white","symbolType":"stroke","symbolSize":200,"symbolStrokeWidth":1.2,"rowPadding":1,"labelFontSize":7,"titleFontSize":6.8,"titleFontWeight":"bold","titlePadding":3,"labelOffset":3}},
      "strokeDash":{"field":"dataset","type":"nominal","scale":{"domain":["test","train"],"range":[[1,0],[2.5,1.5]]},
        "legend":{"title":"Dataset","orient":"none","legendX":7,"legendY":59,"padding":3,"fillColor":"white","symbolType":"stroke","symbolSize":200,"symbolStrokeWidth":1.2,"symbolStrokeColor":"black","rowPadding":1,"labelFontSize":7,"titleFontSize":6.8,"titleFontWeight":"bold","titlePadding":3,"labelOffset":3}}
     }},
    {"data":{"name":"notes"},"transform":[{"filter":"datum.id==='auc'"}],"mark":{"type":"text","align":"right","baseline":"middle","fontSize":7.5,"lineHeight":11.4,"color":"black"},
     "encoding":{"x":{"datum":1.0,"type":"quantitative","title":"False Positive Rate (1-Specificity)"},"y":{"datum":0.145,"type":"quantitative","title":"True Positive Rate (Sensitivity)"},"text":{"field":"label"}}},
    {"data":{"name":"notes"},"transform":[{"filter":"datum.id==='A'"}],"mark":{"type":"text","align":"left","baseline":"middle","fontSize":13,"color":"black"},
     "encoding":{"x":{"datum":-0.185,"type":"quantitative","title":"False Positive Rate (1-Specificity)"},"y":{"datum":1.078,"type":"quantitative","title":"True Positive Rate (Sensitivity)"},"text":{"field":"label"}}},
    {"data":{"name":"notes"},"transform":[{"filter":"datum.id==='tA'"}],"mark":{"type":"text","align":"center","baseline":"middle","fontSize":10,"color":"black"},
     "encoding":{"x":{"datum":0.5,"type":"quantitative","title":"False Positive Rate (1-Specificity)"},"y":{"datum":1.084,"type":"quantitative","title":"True Positive Rate (Sensitivity)"},"text":{"field":"label"}}}
   ]},
  {"vconcat":[
    {"width":121,"height":102,
     "view":{"stroke":"black","strokeWidth":0.8},
     "resolve":{"scale":{"x":"independent"}},
     "layer":[
      {"data":{"name":"km"},"transform":[{"filter":"datum.panel==='B' && datum.kind==='step'"}],"mark":{"type":"line","interpolate":"step-after","strokeWidth":0.8},
       "encoding":{
        "x":{"field":"time","type":"quantitative","scale":{"domain":[-195,6110],"nice":false,"zero":false},
          "axis":{"values":[0,1000,2000,3000,4000,5000,6000],"format":"d","labelExpr":"(datum.value==0||datum.value==1000||datum.value==3000||datum.value==5000) ? datum.label : ''","labelOverlap":false,"labelFontSize":6.5,"labelColor":"black","tickColor":"black","tickSize":3,"labelPadding":1,"domain":false,"grid":false,"title":"Days from sample","titleFontSize":9.5,"titlePadding":3}},
        "y":{"field":"surv","type":"quantitative","scale":{"domain":[-0.045,1.04],"nice":false,"zero":false},
          "axis":{"values":[0,0.2,0.4,0.6,0.8,1],"format":".1f","labelOverlap":false,"labelAngle":270,"labelAlign":"center","labelBaseline":"bottom","labelFontSize":6.5,"labelColor":"black","tickColor":"black","tickSize":3,"labelPadding":3,"domain":false,"grid":false,"title":null}},
        "color":{"field":"group","type":"nominal","scale":{"domain":["low","high"],"range":["#000000","#555555"]},"legend":null}}},
      {"data":{"name":"km"},"transform":[{"filter":"datum.panel==='B' && datum.kind==='censor'"}],"mark":{"type":"point","shape":"M-1,0L1,0M0,-1L0,1","filled":false,"size":18,"strokeWidth":0.7,"opacity":1},
       "encoding":{
        "x":{"field":"time","type":"quantitative","scale":{"domain":[-195,6110],"nice":false,"zero":false},"axis":null},
        "y":{"field":"surv","type":"quantitative","title":null},
        "color":{"field":"group","type":"nominal","legend":null}}},
      {"data":{"name":"notes"},"transform":[{"filter":"datum.id==='pB'"}],"mark":{"type":"text","fontSize":6.7,"color":"black","baseline":"middle"},"encoding":{"x":{"datum":4250,"type":"quantitative","scale":{"domain":[-195,6110],"nice":false,"zero":false},"axis":null},"y":{"datum":0.89,"type":"quantitative","title":null},"text":{"field":"label"}}},
      {"data":{"name":"notes"},"transform":[{"filter":"datum.id==='B'"}],"mark":{"type":"text","fontSize":13,"color":"black","align":"left","baseline":"middle"},"encoding":{"x":{"datum":-1340,"type":"quantitative","scale":{"domain":[-195,6110],"nice":false,"zero":false},"axis":null},"y":{"datum":1.1,"type":"quantitative","title":null},"text":{"field":"label"}}},
      {"data":{"name":"notes"},"transform":[{"filter":"datum.id==='tB'"}],"mark":{"type":"text","fontSize":10.5,"color":"black","align":"center","baseline":"middle"},"encoding":{"x":{"datum":2957,"type":"quantitative","scale":{"domain":[-195,6110],"nice":false,"zero":false},"axis":null},"y":{"datum":1.109,"type":"quantitative","title":null},"text":{"field":"label"}}}
     ]},
    {"width":121,"height":102,
     "view":{"stroke":"black","strokeWidth":0.8},
     "resolve":{"scale":{"x":"independent"}},
     "layer":[
      {"data":{"name":"km"},"transform":[{"filter":"datum.panel==='C' && datum.kind==='step'"}],"mark":{"type":"line","interpolate":"step-after","strokeWidth":0.8},
       "encoding":{
        "x":{"field":"time","type":"quantitative","scale":{"domain":[-195,6110],"nice":false,"zero":false},
          "axis":{"values":[0,1000,2000,3000,4000,5000,6000],"format":"d","labelExpr":"(datum.value==0||datum.value==1000||datum.value==3000||datum.value==5000) ? datum.label : ''","labelOverlap":false,"labelFontSize":6.5,"labelColor":"black","tickColor":"black","tickSize":3,"labelPadding":1,"domain":false,"grid":false,"title":"Days from sample","titleFontSize":9.5,"titlePadding":3}},
        "y":{"field":"surv","type":"quantitative","scale":{"domain":[-0.045,1.04],"nice":false,"zero":false},
          "axis":{"values":[0,0.2,0.4,0.6,0.8,1],"format":".1f","labelOverlap":false,"labelAngle":270,"labelAlign":"center","labelBaseline":"bottom","labelFontSize":6.5,"labelColor":"black","tickColor":"black","tickSize":3,"labelPadding":3,"domain":false,"grid":false,"title":null}},
        "color":{"field":"group","type":"nominal","legend":null}}},
      {"data":{"name":"km"},"transform":[{"filter":"datum.panel==='C' && datum.kind==='censor'"}],"mark":{"type":"point","shape":"M-1,0L1,0M0,-1L0,1","filled":false,"size":18,"strokeWidth":0.7,"opacity":1},
       "encoding":{
        "x":{"field":"time","type":"quantitative","scale":{"domain":[-195,6110],"nice":false,"zero":false},"axis":null},
        "y":{"field":"surv","type":"quantitative","title":null},
        "color":{"field":"group","type":"nominal","legend":null}}},
      {"data":{"name":"notes"},"transform":[{"filter":"datum.id==='pC'"}],"mark":{"type":"text","fontSize":6.7,"color":"black","baseline":"middle"},"encoding":{"x":{"datum":4250,"type":"quantitative","scale":{"domain":[-195,6110],"nice":false,"zero":false},"axis":null},"y":{"datum":0.9,"type":"quantitative","title":null},"text":{"field":"label"}}},
      {"data":{"name":"notes"},"transform":[{"filter":"datum.id==='C'"}],"mark":{"type":"text","fontSize":13,"color":"black","align":"left","baseline":"middle"},"encoding":{"x":{"datum":-2320,"type":"quantitative","scale":{"domain":[-195,6110],"nice":false,"zero":false},"axis":null},"y":{"datum":1.19,"type":"quantitative","title":null},"text":{"field":"label"}}},
      {"data":{"name":"notes"},"transform":[{"filter":"datum.id==='tC'"}],"mark":{"type":"text","fontSize":10.5,"color":"black","align":"center","baseline":"middle"},"encoding":{"x":{"datum":2957,"type":"quantitative","scale":{"domain":[-195,6110],"nice":false,"zero":false},"axis":null},"y":{"datum":1.115,"type":"quantitative","title":null},"text":{"field":"label"}}}
     ]}
   ],"spacing":57,"bounds":"flush"}
 ],"spacing":35,"resolve":{"scale":{"stroke":"independent","strokeDash":"independent"}}},
 {"vconcat":[
  {"hconcat":[
    {"width":53.5,"height":9,"view":{"stroke":null},"data":{"name":"markers"},"transform":[{"filter":"datum.marker==='CCR5'"}],"layer":[{"mark":{"type":"rect","fill":"#D9D9D9","stroke":"#B0B0B0","strokeWidth":0.5},"encoding":{}},{"mark":{"type":"text","fontSize":5,"color":"#1A1A1A"},"encoding":{"text":{"field":"marker"}}}]},
    {"width":53.5,"height":9,"view":{"stroke":null},"data":{"name":"markers"},"transform":[{"filter":"datum.marker==='CCR7'"}],"layer":[{"mark":{"type":"rect","fill":"#D9D9D9","stroke":"#B0B0B0","strokeWidth":0.5},"encoding":{}},{"mark":{"type":"text","fontSize":5,"color":"#1A1A1A"},"encoding":{"text":{"field":"marker"}}}]},
    {"width":53.5,"height":9,"view":{"stroke":null},"data":{"name":"markers"},"transform":[{"filter":"datum.marker==='CD27'"}],"layer":[{"mark":{"type":"rect","fill":"#D9D9D9","stroke":"#B0B0B0","strokeWidth":0.5},"encoding":{}},{"mark":{"type":"text","fontSize":5,"color":"#1A1A1A"},"encoding":{"text":{"field":"marker"}}}]},
    {"width":53.5,"height":9,"view":{"stroke":null},"data":{"name":"markers"},"transform":[{"filter":"datum.marker==='CD28'"}],"layer":[{"mark":{"type":"rect","fill":"#D9D9D9","stroke":"#B0B0B0","strokeWidth":0.5},"encoding":{}},{"mark":{"type":"text","fontSize":5,"color":"#1A1A1A"},"encoding":{"text":{"field":"marker"}}}]},
    {"width":53.5,"height":9,"view":{"stroke":null},"data":{"name":"markers"},"transform":[{"filter":"datum.marker==='CD4'"}],"layer":[{"mark":{"type":"rect","fill":"#D9D9D9","stroke":"#B0B0B0","strokeWidth":0.5},"encoding":{}},{"mark":{"type":"text","fontSize":5,"color":"#1A1A1A"},"encoding":{"text":{"field":"marker"}}}]},
    {"width":53.5,"height":9,"view":{"stroke":null},"data":{"name":"markers"},"transform":[{"filter":"datum.marker==='CD45RO'"}],"layer":[{"mark":{"type":"rect","fill":"#D9D9D9","stroke":"#B0B0B0","strokeWidth":0.5},"encoding":{}},{"mark":{"type":"text","fontSize":5,"color":"#1A1A1A"},"encoding":{"text":{"field":"marker"}}}]},
    {"width":53.5,"height":9,"view":{"stroke":null},"data":{"name":"markers"},"transform":[{"filter":"datum.marker==='CD8'"}],"layer":[{"mark":{"type":"rect","fill":"#D9D9D9","stroke":"#B0B0B0","strokeWidth":0.5},"encoding":{}},{"mark":{"type":"text","fontSize":5,"color":"#1A1A1A"},"encoding":{"text":{"field":"marker"}}}]},
    {"width":53.5,"height":9,"view":{"stroke":null},"data":{"name":"markers"},"transform":[{"filter":"datum.marker==='KI67'"}],"layer":[{"mark":{"type":"rect","fill":"#D9D9D9","stroke":"#B0B0B0","strokeWidth":0.5},"encoding":{}},{"mark":{"type":"text","fontSize":5,"color":"#1A1A1A"},"encoding":{"text":{"field":"marker"}}}]}
  ],"spacing":3,"bounds":"flush"},
  {"hconcat":[
    {"width":53.5,"height":46,"data":{"name":"dens"},"transform":[{"filter":"datum.marker==='CCR5' && datum.sample==='824617'"}],
     "encoding":{"x":{"field":"x","type":"quantitative","scale":{"domain":[-2.6,4.25],"nice":false,"zero":false},"axis":{"values":[-2,0,2,4],"labels":false,"ticks":false,"domain":false,"title":null}},"y":{"field":"y","type":"quantitative","scale":{"domain":[0,1.08],"nice":false},"axis":{"values":[0.25,0.5,0.75,1],"labels":false,"ticks":false,"domain":false,"title":null}}},
     "layer":[{"transform":[{"filter":"datum.dist==='Cluster'"}],"mark":{"type":"area","fillOpacity":0.45,"stroke":"#262626","strokeWidth":0.5,"clip":true},"encoding":{"fill":{"field":"dist","type":"nominal","scale":{"domain":["Background","Cluster"],"range":["#5555FF","#FF0000"]},
        "legend":{"title":"Distribution:","orient":"none","legendX":163,"legendY":425,"direction":"horizontal","titleOrient":"left","titleFontSize":5.7,"titleFontWeight":"bold","labelFontSize":5,"symbolType":"square","symbolSize":110,"symbolOpacity":0.45,"symbolStrokeColor":"#262626","symbolStrokeWidth":0.6,"columnPadding":8,"labelOffset":3,"titlePadding":8,"padding":0}}}},
       {"transform":[{"filter":"datum.dist==='Background'"}],"mark":{"type":"area","fillOpacity":0.22,"stroke":"#262626","strokeWidth":0.5,"clip":true},"encoding":{"fill":{"field":"dist","type":"nominal"}}}]},
    {"width":53.5,"height":46,"data":{"name":"dens"},"transform":[{"filter":"datum.marker==='CCR7' && datum.sample==='824617'"}],
     "encoding":{"x":{"field":"x","type":"quantitative","scale":{"domain":[-3.2,2.35],"nice":false,"zero":false},"axis":{"values":[-3,-2,-1,0,1,2],"labels":false,"ticks":false,"domain":false,"title":null}},"y":{"field":"y","type":"quantitative","scale":{"domain":[0,1.08],"nice":false},"axis":{"values":[0.25,0.5,0.75,1],"labels":false,"ticks":false,"domain":false,"title":null}}},
     "layer":[{"transform":[{"filter":"datum.dist==='Cluster'"}],"mark":{"type":"area","fillOpacity":0.45,"stroke":"#262626","strokeWidth":0.5,"clip":true},"encoding":{"fill":{"field":"dist","type":"nominal"}}},{"transform":[{"filter":"datum.dist==='Background'"}],"mark":{"type":"area","fillOpacity":0.22,"stroke":"#262626","strokeWidth":0.5,"clip":true},"encoding":{"fill":{"field":"dist","type":"nominal"}}}]},
    {"width":53.5,"height":46,"data":{"name":"dens"},"transform":[{"filter":"datum.marker==='CD27' && datum.sample==='824617'"}],
     "encoding":{"x":{"field":"x","type":"quantitative","scale":{"domain":[-3.4,2.8],"nice":false,"zero":false},"axis":{"values":[-3,-2,-1,0,1,2],"labels":false,"ticks":false,"domain":false,"title":null}},"y":{"field":"y","type":"quantitative","scale":{"domain":[0,1.08],"nice":false},"axis":{"values":[0.25,0.5,0.75,1],"labels":false,"ticks":false,"domain":false,"title":null}}},
     "layer":[{"transform":[{"filter":"datum.dist==='Cluster'"}],"mark":{"type":"area","fillOpacity":0.45,"stroke":"#262626","strokeWidth":0.5,"clip":true},"encoding":{"fill":{"field":"dist","type":"nominal"}}},{"transform":[{"filter":"datum.dist==='Background'"}],"mark":{"type":"area","fillOpacity":0.22,"stroke":"#262626","strokeWidth":0.5,"clip":true},"encoding":{"fill":{"field":"dist","type":"nominal"}}}]},
    {"width":53.5,"height":46,"data":{"name":"dens"},"transform":[{"filter":"datum.marker==='CD28' && datum.sample==='824617'"}],
     "encoding":{"x":{"field":"x","type":"quantitative","scale":{"domain":[-4.1,2.9],"nice":false,"zero":false},"axis":{"values":[-4,-2,0,2],"labels":false,"ticks":false,"domain":false,"title":null}},"y":{"field":"y","type":"quantitative","scale":{"domain":[0,1.08],"nice":false},"axis":{"values":[0.25,0.5,0.75,1],"labels":false,"ticks":false,"domain":false,"title":null}}},
     "layer":[{"transform":[{"filter":"datum.dist==='Cluster'"}],"mark":{"type":"area","fillOpacity":0.45,"stroke":"#262626","strokeWidth":0.5,"clip":true},"encoding":{"fill":{"field":"dist","type":"nominal"}}},{"transform":[{"filter":"datum.dist==='Background'"}],"mark":{"type":"area","fillOpacity":0.22,"stroke":"#262626","strokeWidth":0.5,"clip":true},"encoding":{"fill":{"field":"dist","type":"nominal"}}}]},
    {"width":53.5,"height":46,"data":{"name":"dens"},"transform":[{"filter":"datum.marker==='CD4' && datum.sample==='824617'"}],
     "encoding":{"x":{"field":"x","type":"quantitative","scale":{"domain":[-5.5,7.3],"nice":false,"zero":false},"axis":{"values":[-2.5,0,2.5,5],"labels":false,"ticks":false,"domain":false,"title":null}},"y":{"field":"y","type":"quantitative","scale":{"domain":[0,1.08],"nice":false},"axis":{"values":[0.25,0.5,0.75,1],"labels":false,"ticks":false,"domain":false,"title":null}}},
     "layer":[{"transform":[{"filter":"datum.dist==='Cluster'"}],"mark":{"type":"area","fillOpacity":0.45,"stroke":"#262626","strokeWidth":0.5,"clip":true},"encoding":{"fill":{"field":"dist","type":"nominal"}}},{"transform":[{"filter":"datum.dist==='Background'"}],"mark":{"type":"area","fillOpacity":0.22,"stroke":"#262626","strokeWidth":0.5,"clip":true},"encoding":{"fill":{"field":"dist","type":"nominal"}}}]},
    {"width":53.5,"height":46,"data":{"name":"dens"},"transform":[{"filter":"datum.marker==='CD45RO' && datum.sample==='824617'"}],
     "encoding":{"x":{"field":"x","type":"quantitative","scale":{"domain":[-2.65,2.8],"nice":false,"zero":false},"axis":{"values":[-2,-1,0,1,2],"labels":false,"ticks":false,"domain":false,"title":null}},"y":{"field":"y","type":"quantitative","scale":{"domain":[0,1.08],"nice":false},"axis":{"values":[0.25,0.5,0.75,1],"labels":false,"ticks":false,"domain":false,"title":null}}},
     "layer":[{"transform":[{"filter":"datum.dist==='Cluster'"}],"mark":{"type":"area","fillOpacity":0.45,"stroke":"#262626","strokeWidth":0.5,"clip":true},"encoding":{"fill":{"field":"dist","type":"nominal"}}},{"transform":[{"filter":"datum.dist==='Background'"}],"mark":{"type":"area","fillOpacity":0.22,"stroke":"#262626","strokeWidth":0.5,"clip":true},"encoding":{"fill":{"field":"dist","type":"nominal"}}}]},
    {"width":53.5,"height":46,"data":{"name":"dens"},"transform":[{"filter":"datum.marker==='CD8' && datum.sample==='824617'"}],
     "encoding":{"x":{"field":"x","type":"quantitative","scale":{"domain":[-3.1,4.3],"nice":false,"zero":false},"axis":{"values":[-2,0,2,4],"labels":false,"ticks":false,"domain":false,"title":null}},"y":{"field":"y","type":"quantitative","scale":{"domain":[0,1.08],"nice":false},"axis":{"values":[0.25,0.5,0.75,1],"labels":false,"ticks":false,"domain":false,"title":null}}},
     "layer":[{"transform":[{"filter":"datum.dist==='Cluster'"}],"mark":{"type":"area","fillOpacity":0.45,"stroke":"#262626","strokeWidth":0.5,"clip":true},"encoding":{"fill":{"field":"dist","type":"nominal"}}},{"transform":[{"filter":"datum.dist==='Background'"}],"mark":{"type":"area","fillOpacity":0.22,"stroke":"#262626","strokeWidth":0.5,"clip":true},"encoding":{"fill":{"field":"dist","type":"nominal"}}}]},
    {"width":53.5,"height":46,"data":{"name":"dens"},"transform":[{"filter":"datum.marker==='KI67' && datum.sample==='824617'"}],
     "encoding":{"x":{"field":"x","type":"quantitative","scale":{"domain":[-5,14.5],"nice":false,"zero":false},"axis":{"values":[0,5,10],"labels":false,"ticks":false,"domain":false,"title":null}},"y":{"field":"y","type":"quantitative","scale":{"domain":[0,1.08],"nice":false},"axis":{"values":[0.25,0.5,0.75,1],"labels":false,"ticks":false,"domain":false,"title":null}}},
     "layer":[{"transform":[{"filter":"datum.dist==='Cluster'"}],"mark":{"type":"area","fillOpacity":0.45,"stroke":"#262626","strokeWidth":0.5,"clip":true},"encoding":{"fill":{"field":"dist","type":"nominal"}}},{"transform":[{"filter":"datum.dist==='Background'"}],"mark":{"type":"area","fillOpacity":0.22,"stroke":"#262626","strokeWidth":0.5,"clip":true},"encoding":{"fill":{"field":"dist","type":"nominal"}}}]},
    {"width":8,"height":46,"view":{"stroke":null},"data":{"name":"samples"},"transform":[{"filter":"datum.sample==='824617'"}],
     "layer":[{"mark":{"type":"rect","fill":"#D9D9D9","stroke":"#B0B0B0","strokeWidth":0.5},"encoding":{}},{"mark":{"type":"text","fontSize":5,"angle":90,"color":"#1A1A1A"},"encoding":{"text":{"field":"sample"}}}]}
  ],"spacing":3,"bounds":"flush"},
  {"hconcat":[
    {"width":53.5,"height":46,"data":{"name":"dens"},"transform":[{"filter":"datum.marker==='CCR5' && datum.sample==='824664'"}],
     "encoding":{"x":{"field":"x","type":"quantitative","scale":{"domain":[-2.6,4.25],"nice":false,"zero":false},"axis":{"values":[-2,0,2,4],"format":"d","labelFontSize":5.3,"tickSize":2,"labelPadding":1,"domain":false,"title":null}},"y":{"field":"y","type":"quantitative","scale":{"domain":[0,1.08],"nice":false},"axis":{"values":[0.25,0.5,0.75,1],"labels":false,"ticks":false,"domain":false,"title":null}}},
     "layer":[{"transform":[{"filter":"datum.dist==='Cluster'"}],"mark":{"type":"area","fillOpacity":0.45,"stroke":"#262626","strokeWidth":0.5,"clip":true},"encoding":{"fill":{"field":"dist","type":"nominal"}}},{"transform":[{"filter":"datum.dist==='Background'"}],"mark":{"type":"area","fillOpacity":0.22,"stroke":"#262626","strokeWidth":0.5,"clip":true},"encoding":{"fill":{"field":"dist","type":"nominal"}}}]},
    {"width":53.5,"height":46,"data":{"name":"dens"},"transform":[{"filter":"datum.marker==='CCR7' && datum.sample==='824664'"}],
     "encoding":{"x":{"field":"x","type":"quantitative","scale":{"domain":[-3.2,2.35],"nice":false,"zero":false},"axis":{"values":[-3,-2,-1,0,1,2],"format":"d","labelFontSize":5.3,"tickSize":2,"labelPadding":1,"domain":false,"title":null}},"y":{"field":"y","type":"quantitative","scale":{"domain":[0,1.08],"nice":false},"axis":{"values":[0.25,0.5,0.75,1],"labels":false,"ticks":false,"domain":false,"title":null}}},
     "layer":[{"transform":[{"filter":"datum.dist==='Cluster'"}],"mark":{"type":"area","fillOpacity":0.45,"stroke":"#262626","strokeWidth":0.5,"clip":true},"encoding":{"fill":{"field":"dist","type":"nominal"}}},{"transform":[{"filter":"datum.dist==='Background'"}],"mark":{"type":"area","fillOpacity":0.22,"stroke":"#262626","strokeWidth":0.5,"clip":true},"encoding":{"fill":{"field":"dist","type":"nominal"}}}]},
    {"width":53.5,"height":46,"data":{"name":"dens"},"transform":[{"filter":"datum.marker==='CD27' && datum.sample==='824664'"}],
     "encoding":{"x":{"field":"x","type":"quantitative","scale":{"domain":[-3.4,2.8],"nice":false,"zero":false},"axis":{"values":[-3,-2,-1,0,1,2],"format":"d","labelFontSize":5.3,"tickSize":2,"labelPadding":1,"domain":false,"title":null}},"y":{"field":"y","type":"quantitative","scale":{"domain":[0,1.08],"nice":false},"axis":{"values":[0.25,0.5,0.75,1],"labels":false,"ticks":false,"domain":false,"title":null}}},
     "layer":[{"transform":[{"filter":"datum.dist==='Cluster'"}],"mark":{"type":"area","fillOpacity":0.45,"stroke":"#262626","strokeWidth":0.5,"clip":true},"encoding":{"fill":{"field":"dist","type":"nominal"}}},{"transform":[{"filter":"datum.dist==='Background'"}],"mark":{"type":"area","fillOpacity":0.22,"stroke":"#262626","strokeWidth":0.5,"clip":true},"encoding":{"fill":{"field":"dist","type":"nominal"}}}]},
    {"width":53.5,"height":46,"data":{"name":"dens"},"transform":[{"filter":"datum.marker==='CD28' && datum.sample==='824664'"}],
     "encoding":{"x":{"field":"x","type":"quantitative","scale":{"domain":[-4.1,2.9],"nice":false,"zero":false},"axis":{"values":[-4,-2,0,2],"format":"d","labelFontSize":5.3,"tickSize":2,"labelPadding":1,"domain":false,"title":null}},"y":{"field":"y","type":"quantitative","scale":{"domain":[0,1.08],"nice":false},"axis":{"values":[0.25,0.5,0.75,1],"labels":false,"ticks":false,"domain":false,"title":null}}},
     "layer":[{"transform":[{"filter":"datum.dist==='Cluster'"}],"mark":{"type":"area","fillOpacity":0.45,"stroke":"#262626","strokeWidth":0.5,"clip":true},"encoding":{"fill":{"field":"dist","type":"nominal"}}},{"transform":[{"filter":"datum.dist==='Background'"}],"mark":{"type":"area","fillOpacity":0.22,"stroke":"#262626","strokeWidth":0.5,"clip":true},"encoding":{"fill":{"field":"dist","type":"nominal"}}}]},
    {"width":53.5,"height":46,"data":{"name":"dens"},"transform":[{"filter":"datum.marker==='CD4' && datum.sample==='824664'"}],
     "encoding":{"x":{"field":"x","type":"quantitative","scale":{"domain":[-5.5,7.3],"nice":false,"zero":false},"axis":{"values":[-2.5,0,2.5,5],"format":".1f","labelFontSize":5.3,"tickSize":2,"labelPadding":1,"domain":false,"title":null}},"y":{"field":"y","type":"quantitative","scale":{"domain":[0,1.08],"nice":false},"axis":{"values":[0.25,0.5,0.75,1],"labels":false,"ticks":false,"domain":false,"title":null}}},
     "layer":[{"transform":[{"filter":"datum.dist==='Cluster'"}],"mark":{"type":"area","fillOpacity":0.45,"stroke":"#262626","strokeWidth":0.5,"clip":true},"encoding":{"fill":{"field":"dist","type":"nominal"}}},{"transform":[{"filter":"datum.dist==='Background'"}],"mark":{"type":"area","fillOpacity":0.22,"stroke":"#262626","strokeWidth":0.5,"clip":true},"encoding":{"fill":{"field":"dist","type":"nominal"}}}]},
    {"width":53.5,"height":46,"data":{"name":"dens"},"transform":[{"filter":"datum.marker==='CD45RO' && datum.sample==='824664'"}],
     "encoding":{"x":{"field":"x","type":"quantitative","scale":{"domain":[-2.65,2.8],"nice":false,"zero":false},"axis":{"values":[-2,-1,0,1,2],"format":"d","labelFontSize":5.3,"tickSize":2,"labelPadding":1,"domain":false,"title":null}},"y":{"field":"y","type":"quantitative","scale":{"domain":[0,1.08],"nice":false},"axis":{"values":[0.25,0.5,0.75,1],"labels":false,"ticks":false,"domain":false,"title":null}}},
     "layer":[{"transform":[{"filter":"datum.dist==='Cluster'"}],"mark":{"type":"area","fillOpacity":0.45,"stroke":"#262626","strokeWidth":0.5,"clip":true},"encoding":{"fill":{"field":"dist","type":"nominal"}}},{"transform":[{"filter":"datum.dist==='Background'"}],"mark":{"type":"area","fillOpacity":0.22,"stroke":"#262626","strokeWidth":0.5,"clip":true},"encoding":{"fill":{"field":"dist","type":"nominal"}}}]},
    {"width":53.5,"height":46,"data":{"name":"dens"},"transform":[{"filter":"datum.marker==='CD8' && datum.sample==='824664'"}],
     "encoding":{"x":{"field":"x","type":"quantitative","scale":{"domain":[-3.1,4.3],"nice":false,"zero":false},"axis":{"values":[-2,0,2,4],"format":"d","labelFontSize":5.3,"tickSize":2,"labelPadding":1,"domain":false,"title":null}},"y":{"field":"y","type":"quantitative","scale":{"domain":[0,1.08],"nice":false},"axis":{"values":[0.25,0.5,0.75,1],"labels":false,"ticks":false,"domain":false,"title":null}}},
     "layer":[{"transform":[{"filter":"datum.dist==='Cluster'"}],"mark":{"type":"area","fillOpacity":0.45,"stroke":"#262626","strokeWidth":0.5,"clip":true},"encoding":{"fill":{"field":"dist","type":"nominal"}}},{"transform":[{"filter":"datum.dist==='Background'"}],"mark":{"type":"area","fillOpacity":0.22,"stroke":"#262626","strokeWidth":0.5,"clip":true},"encoding":{"fill":{"field":"dist","type":"nominal"}}}]},
    {"width":53.5,"height":46,"data":{"name":"dens"},"transform":[{"filter":"datum.marker==='KI67' && datum.sample==='824664'"}],
     "encoding":{"x":{"field":"x","type":"quantitative","scale":{"domain":[-5,14.5],"nice":false,"zero":false},"axis":{"values":[0,5,10],"format":"d","labelFontSize":5.3,"tickSize":2,"labelPadding":1,"domain":false,"title":null}},"y":{"field":"y","type":"quantitative","scale":{"domain":[0,1.08],"nice":false},"axis":{"values":[0.25,0.5,0.75,1],"labels":false,"ticks":false,"domain":false,"title":null}}},
     "layer":[{"transform":[{"filter":"datum.dist==='Cluster'"}],"mark":{"type":"area","fillOpacity":0.45,"stroke":"#262626","strokeWidth":0.5,"clip":true},"encoding":{"fill":{"field":"dist","type":"nominal"}}},{"transform":[{"filter":"datum.dist==='Background'"}],"mark":{"type":"area","fillOpacity":0.22,"stroke":"#262626","strokeWidth":0.5,"clip":true},"encoding":{"fill":{"field":"dist","type":"nominal"}}}]},
    {"width":8,"height":46,"view":{"stroke":null},"data":{"name":"samples"},"transform":[{"filter":"datum.sample==='824664'"}],
     "layer":[{"mark":{"type":"rect","fill":"#D9D9D9","stroke":"#B0B0B0","strokeWidth":0.5},"encoding":{}},{"mark":{"type":"text","fontSize":5,"angle":90,"color":"#1A1A1A"},"encoding":{"text":{"field":"sample"}}}]}
  ],"spacing":3,"bounds":"flush"}
 ],"spacing":1.5,
 "title":{"text":"D","orient":"left","angle":0,"anchor":"end","align":"right","baseline":"top","fontSize":13,"offset":11.5}}
],
"spacing":10,
"resolve":{"scale":{"stroke":"independent","strokeDash":"independent"}}
}
